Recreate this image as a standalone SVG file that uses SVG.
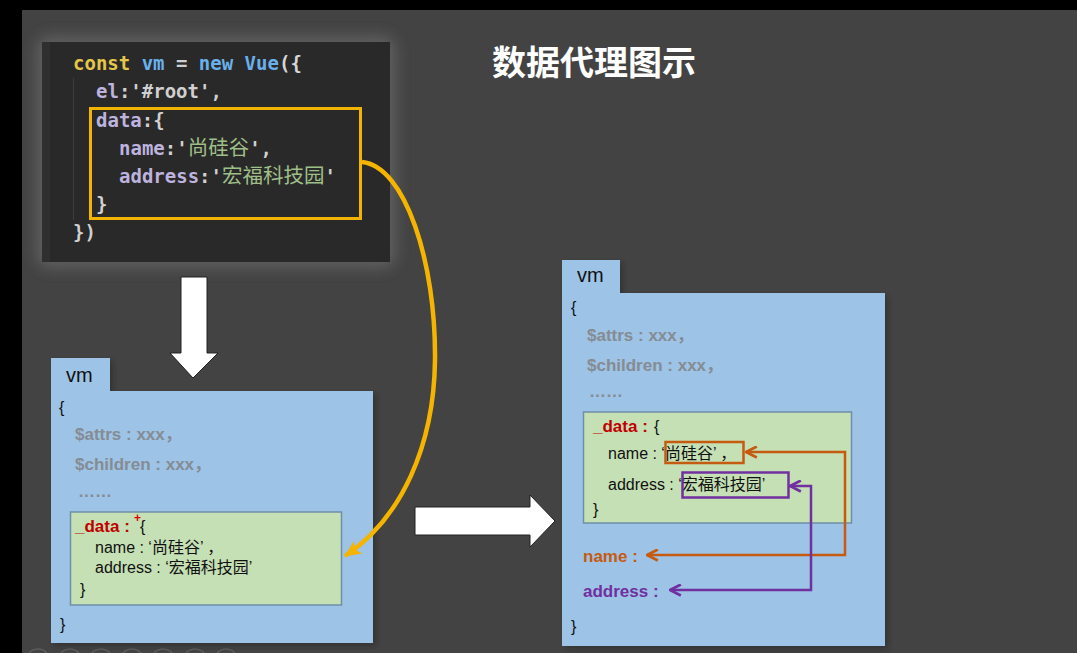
<svg xmlns="http://www.w3.org/2000/svg" width="1077" height="653" viewBox="0 0 1077 653">
<style>
.mono{font-family:"DejaVu Sans Mono","Liberation Mono","Noto Sans CJK SC",monospace;font-size:19px;font-weight:bold}
.cjkc{font-family:"Noto Sans CJK SC",sans-serif;font-size:20.5px;font-weight:normal}
.t{font-family:"Liberation Sans","Noto Sans CJK SC",sans-serif;font-size:16px;fill:#111}
.g{font-family:"Liberation Sans","Noto Sans CJK SC",sans-serif;font-size:17px;font-weight:bold;fill:#858c94}
.red{font-family:"Liberation Sans","Noto Sans CJK SC",sans-serif;font-size:17px;font-weight:bold;fill:#c00000}
.tab{font-family:"Liberation Sans",sans-serif;font-size:20px;fill:#111}
.blue{fill:#9dc3e6}
.green{fill:#c5e0b4;stroke:#6f8fa8;stroke-width:1.5}
</style>
<defs>
<filter id="glow" x="-20%" y="-20%" width="140%" height="140%"><feGaussianBlur stdDeviation="7"/></filter>
<filter id="sh" x="-10%" y="-10%" width="120%" height="120%"><feGaussianBlur stdDeviation="2.5"/></filter>
<marker id="ya" viewBox="0 0 16 14" refX="15" refY="7" markerWidth="17" markerHeight="15" markerUnits="userSpaceOnUse" orient="auto"><path d="M0,0 L16,7 L0,14 L4,7 Z" fill="#f5b400"/></marker>
<marker id="oa" viewBox="0 0 12 12" refX="11" refY="6" markerWidth="13" markerHeight="13" markerUnits="userSpaceOnUse" orient="auto-start-reverse"><path d="M1,1 L11,6 L1,11" fill="none" stroke="#c55a11" stroke-width="2.6"/></marker>
<marker id="pa" viewBox="0 0 12 12" refX="11" refY="6" markerWidth="13" markerHeight="13" markerUnits="userSpaceOnUse" orient="auto-start-reverse"><path d="M1,1 L11,6 L1,11" fill="none" stroke="#7030a0" stroke-width="2.6"/></marker>
</defs>
<rect width="1077" height="653" fill="#000"/>
<rect x="22" y="10" width="1055" height="643" fill="#434343"/>
<g id="nav" fill="none" stroke="#5c5c5c" stroke-width="1.5">
<circle cx="38" cy="661" r="12"/><circle cx="70" cy="661" r="12"/><circle cx="101" cy="661" r="12"/><circle cx="132" cy="661" r="12"/><circle cx="163" cy="661" r="12"/><circle cx="195" cy="661" r="12"/><circle cx="226" cy="661" r="12"/>
</g>
<g id="title"><text x="492" y="75" font-family="Noto Sans CJK SC,sans-serif" font-size="34" font-weight="bold" fill="#ffffff">数据代理图示</text></g>
<g id="code">
<rect x="36" y="36" width="360" height="232" rx="14" fill="#5e5e5e" filter="url(#glow)"/>
<rect x="42" y="42" width="348" height="220" fill="#292929"/>
<rect x="42" y="42" width="8" height="220" fill="#2f2f2f"/>
<line x1="73.5" y1="78" x2="73.5" y2="220" stroke="#3c3c3c" stroke-width="1"/>
<text class="mono" x="73" y="70"><tspan fill="#e3c64a">const</tspan><tspan fill="#6ab0ea"> vm</tspan><tspan fill="#cfcfcf"> = </tspan><tspan fill="#6ab0ea">new Vue</tspan><tspan fill="#d6d6d6">({</tspan></text>
<text class="mono" x="96" y="98"><tspan fill="#bdb3de">el</tspan><tspan fill="#d0d0d0">:'#root',</tspan></text>
<text class="mono" x="96" y="127"><tspan fill="#bdb3de">data</tspan><tspan fill="#d0d0d0">:{</tspan></text>
<text class="mono" x="119" y="155"><tspan fill="#bdb3de">name</tspan><tspan fill="#d0d0d0">:'</tspan><tspan class="cjkc" fill="#9fbf88">尚硅谷</tspan><tspan fill="#d0d0d0">',</tspan></text>
<text class="mono" x="119" y="183"><tspan fill="#bdb3de">address</tspan><tspan fill="#d0d0d0">:'</tspan><tspan class="cjkc" fill="#9fbf88">宏福科技园</tspan><tspan fill="#d0d0d0">'</tspan></text>
<text class="mono" x="96" y="211" fill="#d0d0d0">}</text>
<text class="mono" x="73" y="239" fill="#d0d0d0">})</text>
<rect x="90.5" y="108.5" width="270" height="110" fill="none" stroke="#f2b400" stroke-width="3"/>
</g>
<g id="vm-left">
<path d="M54,361 H113 V394 H376 V646 H54 Z" fill="#1a1a1a" opacity="0.4" filter="url(#sh)"/>
<rect class="blue" x="51" y="358" width="59" height="34"/>
<rect class="blue" x="51" y="391" width="322" height="252"/>
<text class="tab" x="66" y="382">vm</text>
<text class="t" x="59" y="413">{</text>
<text class="g" x="75" y="440">$attrs : xxx，</text>
<text class="g" x="75" y="470">$children : xxx，</text>
<text class="g" x="78" y="497" font-weight="normal">……</text>
<rect class="green" x="70.5" y="512" width="271" height="93"/>
<text class="red" x="75" y="532">_data :</text>
<text x="134" y="522" font-family="Liberation Sans,sans-serif" font-size="12" font-weight="bold" fill="#e00000">+</text>
<text class="t" x="140" y="532">{</text>
<text class="t" x="95" y="553">name : ‘尚硅谷’ ，</text>
<text class="t" x="95" y="573">address : ‘宏福科技园’</text>
<text class="t" x="80" y="595">}</text>
<text class="t" x="60" y="630">}</text>
</g>
<g id="vm-right">
<path d="M565,263 H623 V296 H888 V649 H565 Z" fill="#1a1a1a" opacity="0.4" filter="url(#sh)"/>
<rect class="blue" x="562" y="260" width="58" height="34"/>
<rect class="blue" x="562" y="293" width="323" height="353"/>
<text class="tab" x="577" y="282">vm</text>
<text class="t" x="571" y="313">{</text>
<text class="g" x="587" y="341">$attrs : xxx，</text>
<text class="g" x="587" y="371">$children : xxx，</text>
<text class="g" x="589" y="397" font-weight="normal">……</text>
<rect class="green" x="583.5" y="412" width="268" height="111"/>
<text class="red" x="593" y="432">_data :</text>
<text class="t" x="654" y="432">{</text>
<text class="t" x="608" y="459">name : ‘尚硅谷’ ，</text>
<text class="t" x="608" y="490">address : ‘宏福科技园’</text>
<text class="t" x="593" y="515">}</text>
<rect x="665.5" y="442" width="78" height="21" fill="none" stroke="#c55a11" stroke-width="2.5"/>
<rect x="682.5" y="472.5" width="106" height="25" fill="none" stroke="#7030a0" stroke-width="2.5"/>
<text x="583" y="562" font-family="Liberation Sans,sans-serif" font-size="17" font-weight="bold" fill="#c55a11">name :</text>
<text x="583" y="597" font-family="Liberation Sans,sans-serif" font-size="17" font-weight="bold" fill="#7030a0">address :</text>
<text class="t" x="571" y="632">}</text>
</g>
<g id="connectors">
<path d="M362,162 C405,166 436,262 435,360 C434,445 402,518 345,556" fill="none" stroke="#f5b400" stroke-width="4.5" marker-end="url(#ya)"/>
<path d="M746,452 H845 V555 H647" fill="none" stroke="#c55a11" stroke-width="2.5" marker-start="url(#oa)" marker-end="url(#oa)"/>
<path d="M790,486 H811 V590 H670" fill="none" stroke="#7030a0" stroke-width="2.5" marker-start="url(#pa)" marker-end="url(#pa)"/>
<path id="down-arrow" d="M181,277 L207,277 L207,353 L218,353 L193,378 L170,353 L181,353 Z" fill="#ffffff" stroke="#222" stroke-width="1"/>
<path id="right-arrow" d="M415,507 L530,507 L530,495 L555,521 L530,547 L530,535 L415,535 Z" fill="#ffffff" stroke="#222" stroke-width="1"/>
</g>
</svg>
